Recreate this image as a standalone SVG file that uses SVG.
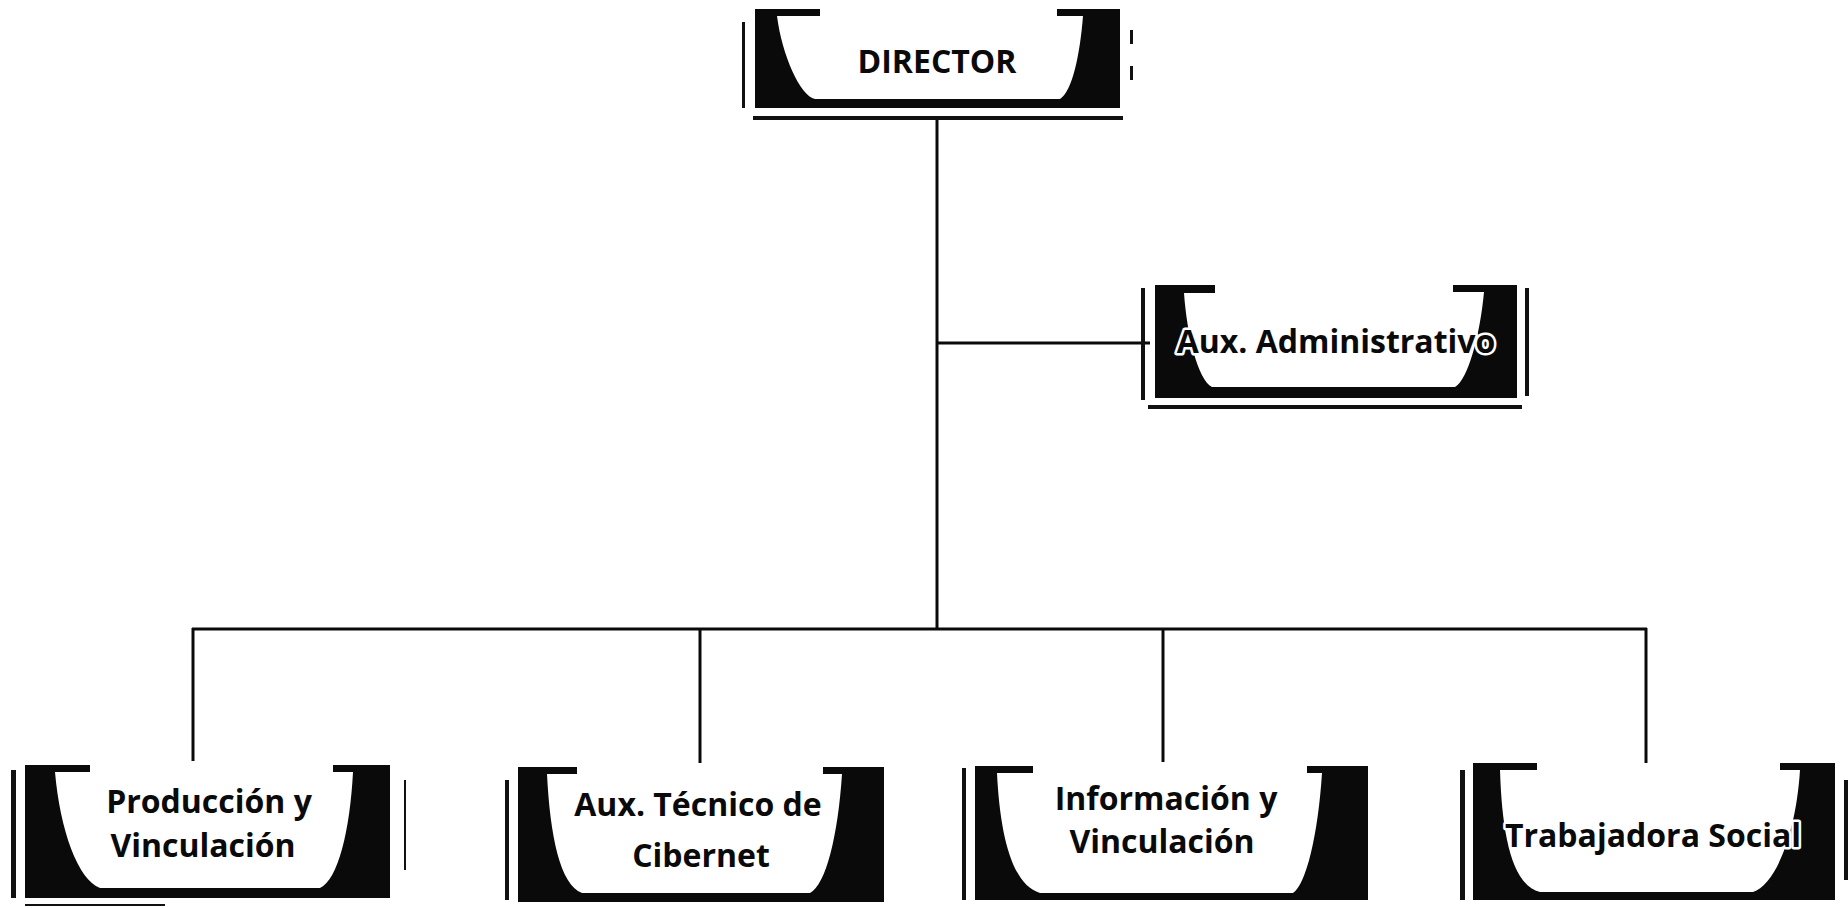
<svg xmlns="http://www.w3.org/2000/svg" width="1848" height="908" viewBox="0 0 1848 908">
<style>
.frame{fill:#0a0a0a}
.inner{fill:#ffffff}
.tick{fill:#111111}
.conn{stroke:#0a0a0a;stroke-width:3;fill:none}
.lbl{font-family:"Open Sans","Liberation Sans",sans-serif;font-weight:700;font-size:32px;fill:#0a0a0a;text-anchor:middle}
.halo{stroke:#ffffff;stroke-width:5;paint-order:stroke;stroke-linejoin:round}
</style>
<rect width="1848" height="908" fill="#ffffff"/>
<g id="connectors">
<line class="conn" x1="937" y1="118" x2="937" y2="630"/>
<line class="conn" x1="937" y1="343" x2="1150" y2="343"/>
<line class="conn" x1="192" y1="629" x2="1647" y2="629"/>
<line class="conn" x1="193" y1="628" x2="193" y2="761"/>
<line class="conn" x1="700" y1="628" x2="700" y2="763"/>
<line class="conn" x1="1163" y1="628" x2="1163" y2="762"/>
<line class="conn" x1="1646" y1="628" x2="1646" y2="763"/>
</g>
<g id="node-director">
<rect class="tick" x="742" y="22" width="3" height="86"/>
<rect class="tick" x="1130" y="30" width="3" height="14"/>
<rect class="tick" x="1130" y="66" width="3" height="14"/>
<rect class="frame" x="755" y="9" width="365" height="99"/>
<path class="inner" d="M777,16 L820,16 L820,9 L1057,9 L1057,16 L1083,16 C1080,55 1072,92 1060,99 L815,99 C800,96 782,55 777,16 Z"/>
<rect class="tick" x="753" y="116" width="370" height="4"/>
<text class="lbl" x="937" y="73">DIRECTOR</text>
</g>
<g id="node-aux-administrativo">
<rect class="tick" x="1141" y="288" width="4" height="112"/>
<rect class="tick" x="1525" y="288" width="4" height="108"/>
<rect class="frame" x="1155" y="285" width="362" height="113"/>
<path class="inner" d="M1184,293 L1215,293 L1215,285 L1453,285 L1453,292 L1484,292 C1480,335 1468,380 1455,387 L1212,387 C1198,380 1187,335 1184,293 Z"/>
<rect class="tick" x="1148" y="405" width="374" height="4"/>
<text class="lbl halo" x="1336" y="353" font-size="30">Aux. Administrativo</text>
</g>
<g id="node-produccion">
<rect class="tick" x="11" y="770" width="5" height="128"/>
<rect class="tick" x="404" y="780" width="2" height="90"/>
<rect class="frame" x="25" y="765" width="365" height="133"/>
<path class="inner" d="M55,772 L90,772 L90,765 L333,765 L333,772 L353,772 C350,830 338,880 320,888 L100,888 C78,880 60,830 55,772 Z"/>
<rect class="tick" x="25" y="904" width="140" height="2"/>
<text class="lbl" x="209" y="813">Producción y</text>
<text class="lbl" x="203" y="857">Vinculación</text>
</g>
<g id="node-aux-tecnico">
<rect class="tick" x="505" y="780" width="4" height="120"/>
<rect class="frame" x="518" y="767" width="366" height="135"/>
<path class="inner" d="M547,774 L577,774 L577,767 L823,767 L823,774 L842,774 C838,835 826,885 810,893 L582,893 C560,885 550,835 547,774 Z"/>
<text class="lbl" x="698" y="816">Aux. Técnico de</text>
<text class="lbl" x="701" y="867">Cibernet</text>
</g>
<g id="node-informacion">
<rect class="tick" x="962" y="768" width="4" height="132"/>
<rect class="frame" x="975" y="766" width="393" height="134"/>
<path class="inner" d="M997,773 L1033,773 L1033,766 L1307,766 L1307,773 L1322,773 C1318,835 1306,885 1293,893 L1040,893 C1012,885 1000,835 997,773 Z"/>
<text class="lbl" x="1166" y="810">Información y</text>
<text class="lbl" x="1162" y="853">Vinculación</text>
</g>
<g id="node-trabajadora">
<rect class="tick" x="1460" y="770" width="5" height="130"/>
<rect class="tick" x="1844" y="780" width="4" height="100"/>
<rect class="frame" x="1473" y="763" width="362" height="137"/>
<path class="inner" d="M1500,770 L1537,770 L1537,763 L1780,763 L1780,770 L1800,770 C1796,835 1775,885 1753,892 L1540,892 C1512,885 1502,835 1500,770 Z"/>
<text class="lbl halo" x="1653" y="847">Trabajadora Social</text>
</g>
</svg>
